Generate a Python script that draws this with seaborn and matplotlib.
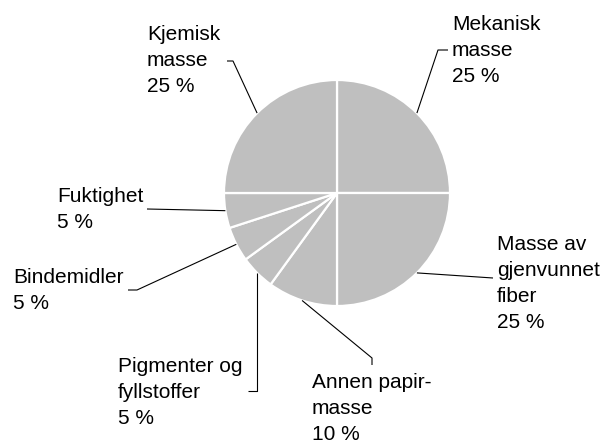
import matplotlib
matplotlib.use("Agg")
import matplotlib.pyplot as plt
import seaborn as sns
import numpy as np

sns.set_style("white")
plt.rcParams['font.family'] = ['Liberation Sans', 'DejaVu Sans']

# Data (clockwise from top)
labels = ["Mekanisk\nmasse", "Masse av\ngjenvunnet\nfiber", "Annen papir-\nmasse",
          "Pigmenter og\nfyllstoffer", "Bindemidler", "Fuktighet", "Kjemisk\nmasse"]
values = [25, 25, 10, 5, 5, 5, 25]

W, H = 602, 445
fig = plt.figure(figsize=(W / 100, H / 100), dpi=100)
ax = fig.add_axes([0, 0, 1, 1])

cx, cy, R = 337, H - 193, 113
wedges, _ = ax.pie(values, startangle=90, counterclock=False, center=(cx, cy), radius=R,
                   colors=["#BFBFBF"] * len(values), frame=True,
                   wedgeprops=dict(edgecolor="white", linewidth=1.6))
ax.set_xlim(0, W)
ax.set_ylim(0, H)
ax.set_aspect("equal")
ax.axis("off")

LINE = 26  # pixels between baselines

# Layout: (label x, first baseline y, leader path after the wedge point) in pixels (y from top)
layout = [
    (452, 30, [(438, 50), (448, 50)]),
    (497, 250, [(493, 278)]),
    (312, 388, [(372, 358), (372, 365)]),
    (118, 372, [(257, 391), (248, 391)]),
    (13, 283, [(137, 290), (128, 290)]),
    (57, 202, [(147, 209)]),
    (147, 40, [(233, 61), (227, 61)]),
]

for w, lab, val, (tx, ty, path) in zip(wedges, labels, values, layout):
    ang = np.deg2rad((w.theta1 + w.theta2) / 2)
    px, py = cx + R * np.cos(ang), cy + R * np.sin(ang)
    xs = [px] + [p[0] for p in path]
    ys = [py] + [H - p[1] for p in path]
    if "Pigmenter" in lab:
        xs[0] = path[0][0]
        ys[0] = cy + np.sqrt(R ** 2 - (path[0][0] - cx) ** 2) * np.sign(np.sin(ang))
    ax.plot(xs, ys, color="black", lw=0.8, solid_capstyle="butt")
    lines = lab.split("\n") + [f"{val} %"]
    for i, s in enumerate(lines):
        ax.text(tx, H - (ty + i * LINE), s, ha="left", va="baseline",
                fontsize=15, color="black")

fig.savefig("out.png", dpi=100)
